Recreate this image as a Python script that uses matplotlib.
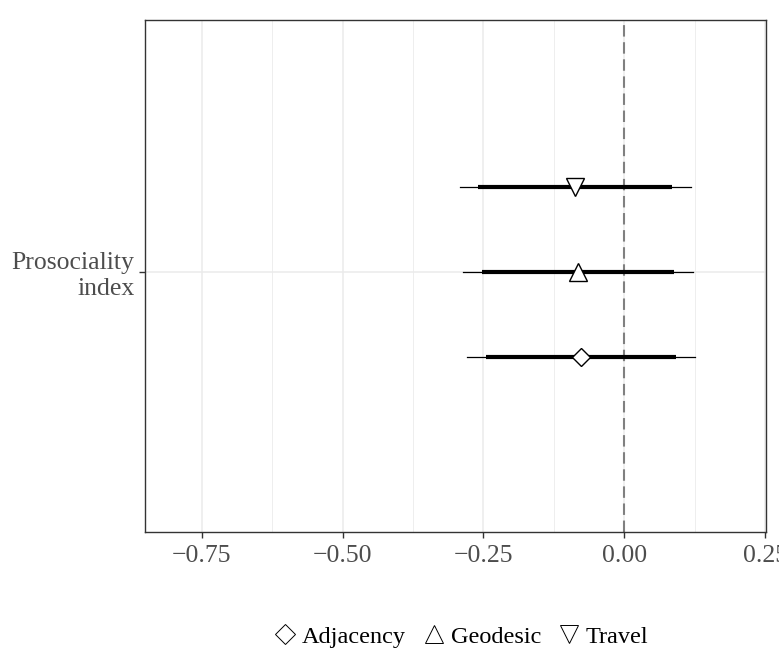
import matplotlib
matplotlib.use("Agg")
import matplotlib.pyplot as plt
from matplotlib.lines import Line2D

plt.rcParams["font.family"] = ["Liberation Serif", "DejaVu Serif"]

# data
models = ["Adjacency", "Geodesic", "Travel"]
estimate = [-0.077, -0.083, -0.088]
ci_inner_lo = [-0.246, -0.253, -0.259]
ci_inner_hi = [0.092, 0.088, 0.084]
ci_outer_lo = [-0.280, -0.287, -0.292]
ci_outer_hi = [0.125, 0.121, 0.118]
offsets = [-0.2, 0.0, 0.2]
category = "Prosociality\nindex"
markers = {"Adjacency": "D", "Geodesic": "^", "Travel": "v"}
msizes = {"Adjacency": 9, "Geodesic": 13, "Travel": 13}
leg_sizes = {"Adjacency": 10, "Geodesic": 12.5, "Travel": 12.5}

fig = plt.figure(figsize=(7.79, 6.54), dpi=100)
ax = fig.add_axes([0.186, 0.1865, 0.797, 0.783])

grid_col = "#EBEBEB"
ax.set_xlim(-0.851, 0.251)
ax.set_ylim(0.391, 1.590)
ax.set_xticks([-0.75, -0.5, -0.25, 0.0, 0.25])
ax.set_xticks([-0.625, -0.375, -0.125, 0.125], minor=True)
ax.set_xticklabels(["\u22120.75", "\u22120.50", "\u22120.25", "0.00", "0.25"])
ax.set_yticks([1.0])
ax.set_yticklabels([category], ha="right", multialignment="right")
ax.grid(True, which="major", color=grid_col, linewidth=1.1, zorder=0)
ax.grid(True, which="minor", axis="x", color=grid_col, linewidth=0.6, zorder=0)
ax.set_axisbelow(True)

ax.tick_params(axis="both", which="major", labelsize=18.5, labelcolor="#4D4D4D",
               color="#333333", length=4, width=1)
ax.tick_params(axis="x", which="major", pad=5)
ax.tick_params(axis="both", which="minor", length=0)
for s in ax.spines.values():
    s.set_color("#333333")
    s.set_linewidth(1.0)

ax.axvline(0, color="#808080", linestyle=(0, (5.5, 2.7)), linewidth=1.5, zorder=1)

for i, m in enumerate(models):
    y = 1.0 + offsets[i]
    ax.plot([ci_outer_lo[i], ci_outer_hi[i]], [y, y], color="black", linewidth=0.9, zorder=2)
    ax.plot([ci_inner_lo[i], ci_inner_hi[i]], [y, y], color="black", linewidth=3.0,
            solid_capstyle="butt", zorder=3)
    ax.plot(estimate[i], y, marker=markers[m], markersize=msizes[m],
            markerfacecolor="white", markeredgecolor="black", markeredgewidth=1.0,
            linestyle="none", zorder=4)

handles = [Line2D([], [], marker=markers[m], linestyle="none", markersize=leg_sizes[m],
                  markerfacecolor="white", markeredgecolor="black", markeredgewidth=0.7)
           for m in models]
fig.legend(handles, models, loc="center", bbox_to_anchor=(0.593, 0.026), ncol=3,
           frameon=False, fontsize=17.5, handletextpad=0.3, columnspacing=0.74,
           handlelength=0.8, borderpad=0.1)

fig.savefig("out.png", dpi=100)
